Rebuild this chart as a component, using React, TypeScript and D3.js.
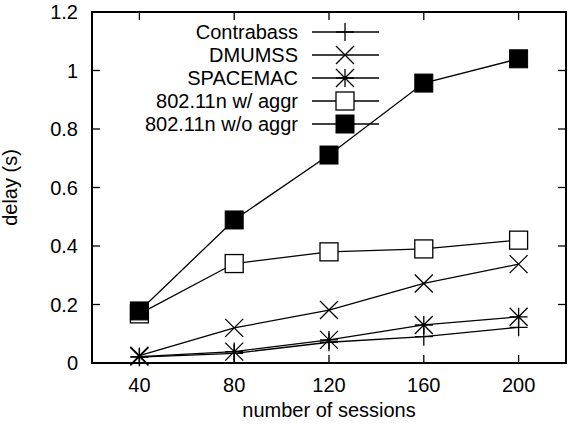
import React from 'react';
import * as d3 from 'd3';

const sessions = [40, 80, 120, 160, 200];
const contrabass = [0.02, 0.033, 0.071, 0.09, 0.122];
const dmumss = [0.025, 0.12, 0.181, 0.272, 0.338];
const spacemac = [0.022, 0.039, 0.079, 0.13, 0.158];
const withAggr = [0.168, 0.34, 0.38, 0.39, 0.42];
const withoutAggr = [0.178, 0.489, 0.711, 0.957, 1.04];

const xTicks = [40, 80, 120, 160, 200];
const yTicks = [0, 0.2, 0.4, 0.6, 0.8, 1, 1.2];

const series = [
  { name: 'Contrabass', values: contrabass, marker: 'plus' },
  { name: 'DMUMSS', values: dmumss, marker: 'cross' },
  { name: 'SPACEMAC', values: spacemac, marker: 'star' },
  { name: '802.11n w/ aggr', values: withAggr, marker: 'square' },
  { name: '802.11n w/o aggr', values: withoutAggr, marker: 'filled' },
];

const W = 572;
const H = 424;
const m = { left: 92, right: 6, top: 12, bottom: 61 };
const font = 'Liberation Sans, Arial, sans-serif';
const fs = 20;

function Marker({ type, x, y }: { type: string; x: number; y: number }) {
  const s = 9;
  const st = { stroke: '#000', strokeWidth: 1.3, fill: 'none' };
  if (type === 'plus')
    return <path d={`M${x - s},${y}H${x + s}M${x},${y - s}V${y + s}`} {...st} />;
  if (type === 'cross')
    return <path d={`M${x - s},${y - s}L${x + s},${y + s}M${x - s},${y + s}L${x + s},${y - s}`} {...st} />;
  if (type === 'star')
    return (
      <path
        d={`M${x - s},${y}H${x + s}M${x},${y - s}V${y + s}M${x - s},${y - s}L${x + s},${y + s}M${x - s},${y + s}L${x + s},${y - s}`}
        {...st}
      />
    );
  if (type === 'square')
    return <rect x={x - s} y={y - s} width={2 * s} height={2 * s} fill="#fff" stroke="#000" strokeWidth={1.3} />;
  return <rect x={x - s} y={y - s} width={2 * s} height={2 * s} fill="#000" stroke="#000" strokeWidth={1} />;
}

export default function App() {
  const x = d3.scaleLinear().domain([20, 220]).range([m.left, W - m.right]);
  const y = d3.scaleLinear().domain([0, 1.2]).range([H - m.bottom, m.top]);
  const line = d3
    .line<number>()
    .x((_, i) => x(sessions[i]))
    .y((d) => y(d));

  const x0 = x(20), x1 = x(220), y0 = y(0), y1 = y(1.2);
  const tick = 8;

  return (
    <svg width={W} height={H} style={{ position: 'absolute', left: 0, top: 0, background: '#fff' }} fontFamily={font}>
      {/* ticks on all four sides */}
      {xTicks.map((t) => (
        <g key={'x' + t}>
          <line x1={x(t)} x2={x(t)} y1={y0} y2={y0 - tick} stroke="#000" strokeWidth={1.3} />
          <line x1={x(t)} x2={x(t)} y1={y1} y2={y1 + tick} stroke="#000" strokeWidth={1.3} />
          <text x={x(t)} y={y0 + 29} fontSize={fs} textAnchor="middle">{t}</text>
        </g>
      ))}
      {yTicks.map((t) => (
        <g key={'y' + t}>
          <line x1={x0} x2={x0 + tick} y1={y(t)} y2={y(t)} stroke="#000" strokeWidth={1.3} />
          <line x1={x1} x2={x1 - tick} y1={y(t)} y2={y(t)} stroke="#000" strokeWidth={1.3} />
          <text x={x0 - 14} y={y(t) + 7} fontSize={fs} textAnchor="end">{t}</text>
        </g>
      ))}

      {series.map((s) => (
        <g key={s.name}>
          <path d={line(s.values) || ''} fill="none" stroke="#000" strokeWidth={1.3} />
          {s.values.map((v, i) => (
            <Marker key={i} type={s.marker} x={x(sessions[i])} y={y(v)} />
          ))}
        </g>
      ))}

      {/* legend */}
      {series.map((s, i) => {
        const ly = 32 + i * 23;
        return (
          <g key={'l' + s.name}>
            <text x={298} y={ly + 7} fontSize={fs} textAnchor="end">{s.name}</text>
            <line x1={312} x2={379} y1={ly} y2={ly} stroke="#000" strokeWidth={1.3} />
            <Marker type={s.marker} x={345} y={ly} />
          </g>
        );
      })}

      <rect x={x0} y={y1} width={x1 - x0} height={y0 - y1} fill="none" stroke="#000" strokeWidth={2} />

      <text x={(x0 + x1) / 2} y={417} fontSize={fs} textAnchor="middle">number of sessions</text>
      <text transform={`translate(17,${(y0 + y1) / 2}) rotate(-90)`} fontSize={fs} textAnchor="middle">delay (s)</text>
    </svg>
  );
}
